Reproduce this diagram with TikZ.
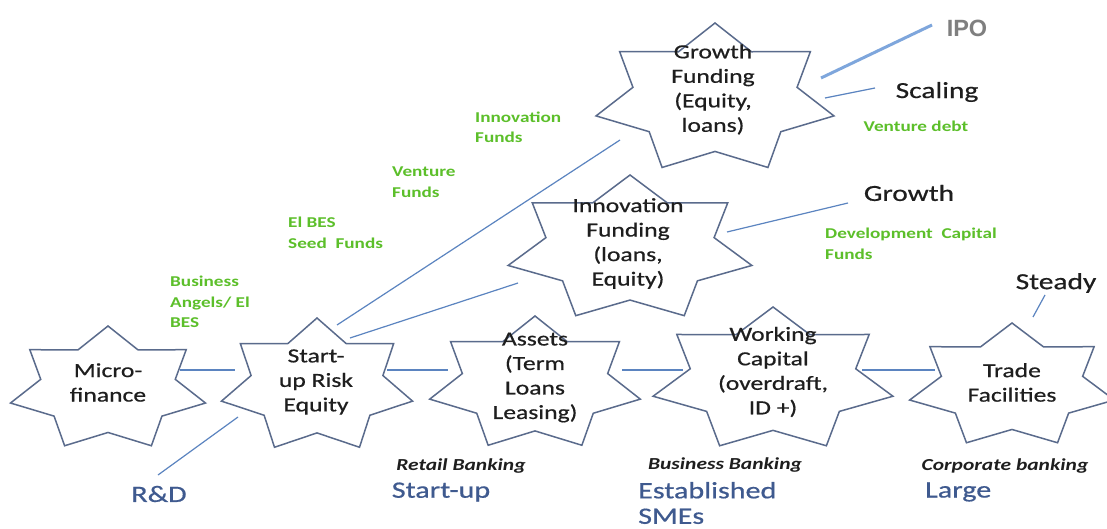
\documentclass[tikz,border=0pt]{standalone}
\usepackage{fontspec}
\setmainfont{Carlito}[FakeStretch=1.28, UprightFeatures={FakeBold=0.6}]
\newfontfamily\ipofont{Liberation Sans}
\usetikzlibrary{calc}
\definecolor{starcol}{HTML}{5A6B8C}
\definecolor{conncol}{HTML}{5B84C0}
\definecolor{ipocol}{HTML}{7EA6DC}
\definecolor{greencol}{HTML}{5CBF2A}
\definecolor{bluetxt}{HTML}{3F5A8F}
\definecolor{darktxt}{HTML}{1E1E1E}
\definecolor{ipotxt}{HTML}{7F7F7F}
\tikzset{
  starline/.style={draw=starcol, line width=1.5pt, line join=miter},
  conn/.style={draw=conncol, line width=1.2pt},
  ipoconn/.style={draw=ipocol, line width=3pt},
  startext/.style={inner sep=0pt, align=center, text=darktxt, font=\fontsize{20}{24.5}\selectfont},
  greentext/.style={inner sep=0pt, align=left, anchor=west, text=greencol, font=\bfseries\fontsize{15}{20.5}\selectfont},
  stagetext/.style={inner sep=0pt, text=darktxt, font=\fontsize{23}{26}\selectfont},
  banktext/.style={inner sep=0pt, text=darktxt, font=\bfseries\itshape\fontsize{16.8}{18}\selectfont},
  sizetext/.style={inner sep=0pt, align=left, text=bluetxt, font=\fontsize{23.5}{25.5}\selectfont},
}
\newcommand{\sevenstar}[3]{%
  \draw[starline,shift={(#1)}] ({#2*cos(-90)},{#3*sin(-90)})
    \foreach \k in {1,...,6}{ -- ({0.69*#2*cos(-90+\k*51.4286-25.7143)},{0.69*#3*sin(-90+\k*51.4286-25.7143)}) -- ({#2*cos(-90+\k*51.4286)},{#3*sin(-90+\k*51.4286)})}
    -- ({0.69*#2*cos(-115.7143)},{0.69*#3*sin(-115.7143)}) -- cycle;}
\begin{document}
\begin{tikzpicture}[x=1pt,y=-1pt]
\useasboundingbox[fill=white] (0,0) rectangle (1107,529);
% star centres
\coordinate (mc) at (108,389);
\coordinate (sc) at (317,386);
\coordinate (ac) at (535,384);
\coordinate (wc) at (773,380);
\coordinate (tc) at (1012,386);
\coordinate (ic) at (630,249);
\coordinate (gc) at (715,99);
\sevenstar{mc}{100}{63}
\sevenstar{sc}{98}{68}
\sevenstar{ac}{108}{68}
\sevenstar{wc}{123}{73}
\sevenstar{tc}{105}{63}
\sevenstar{ic}{125}{74}
\sevenstar{gc}{122}{76}
% star texts
\node[startext] (micro) at (108,382.5) {Micro-\\finance};
\node[startext] (start) at (316,382) {Start-\\up Risk\\Equity};
\node[startext] (assets) at (535,377.5) {Assets\\(Term\\Loans\\Leasing)};
\node[startext] (working) at (773,372) {Working\\Capital\\(overdraft,\\ID +)};
\node[startext] (trade) at (1012,382.5) {Trade\\Facilities};
\node[startext] (innov) at (628,243.5) {Innovation\\Funding\\(loans,\\Equity)};
\node[startext] (growthf) at (713,89.5) {Growth\\Funding\\(Equity,\\loans)};
% stage labels
\node[inner sep=0pt, text=ipotxt, font=\ipofont\bfseries\fontsize{23.5}{26}\selectfont] (ipo) at (967,28) {IPO};
\node[stagetext] (scaling) at (937,92) {Scaling};
\node[stagetext] (growth) at (909,193) {Growth};
\node[stagetext] (steady) at (1056,283) {Steady};
% green labels
\node[greentext, anchor=center] (vdebt) at (916,126) {Venture debt};
\node[greentext] (devcap) at (825,244) {Development\ \ Capital\\Funds};
\node[greentext] (innfunds) at (475,127.5) {Innovation\\Funds};
\node[greentext] (venfunds) at (392,182) {Venture\\Funds};
\node[greentext] (seed) at (288,233) {El BES\\Seed\ \ Funds};
\node[greentext] (angels) at (170,302) {Business\\Angels/ El\\BES};
% banking labels
\node[banktext] (retail) at (461,466) {Retail Banking};
\node[banktext] (busbank) at (725,465) {Business Banking};
\node[banktext] (corp) at (1005,466) {Corporate banking};
% size labels
\node[sizetext] (rd) at (159,494) {R\&D};
\node[sizetext] (su) at (441,492) {Start-up};
\node[sizetext, anchor=west] (sme) at (638,503) {Established\\SMEs};
\node[sizetext, anchor=west] (large) at (925,492) {Large};
% connectors
\draw[conn] ([shift={(72,-19)}]mc) -- ([shift={(-82,-16)}]sc);
\draw[conn] ([shift={(70,-16)}]sc) -- ([shift={(-87,-14)}]ac);
\draw[conn] ([shift={(87,-14)}]ac) -- ([shift={(-90,-10)}]wc);
\draw[conn] ([shift={(89,-10)}]wc) -- ([shift={(-77,-16)}]tc);
\draw[conn] ([shift={(20,-61)}]sc) -- ([shift={(-95,41)}]gc);
\draw[conn] ([shift={(33,-48)}]sc) -- ([shift={(-112,34)}]ic);
\draw[conn] ([shift={(-1,-19)}]rd.center) -- ([shift={(-79,31)}]sc);
\draw[ipoconn] ([shift={(106,-21)}]gc) -- ([shift={(-35,-3)}]ipo.center);
\draw[conn] ([shift={(110,-1)}]gc) -- ([shift={(-62,-4)}]scaling.center);
\draw[conn] ([shift={(97,-17)}]ic) -- ([shift={(-61,10)}]growth.center);
\draw[conn] ([shift={(21,-69)}]tc) -- ([shift={(-11,12)}]steady.center);
\end{tikzpicture}
\end{document}
